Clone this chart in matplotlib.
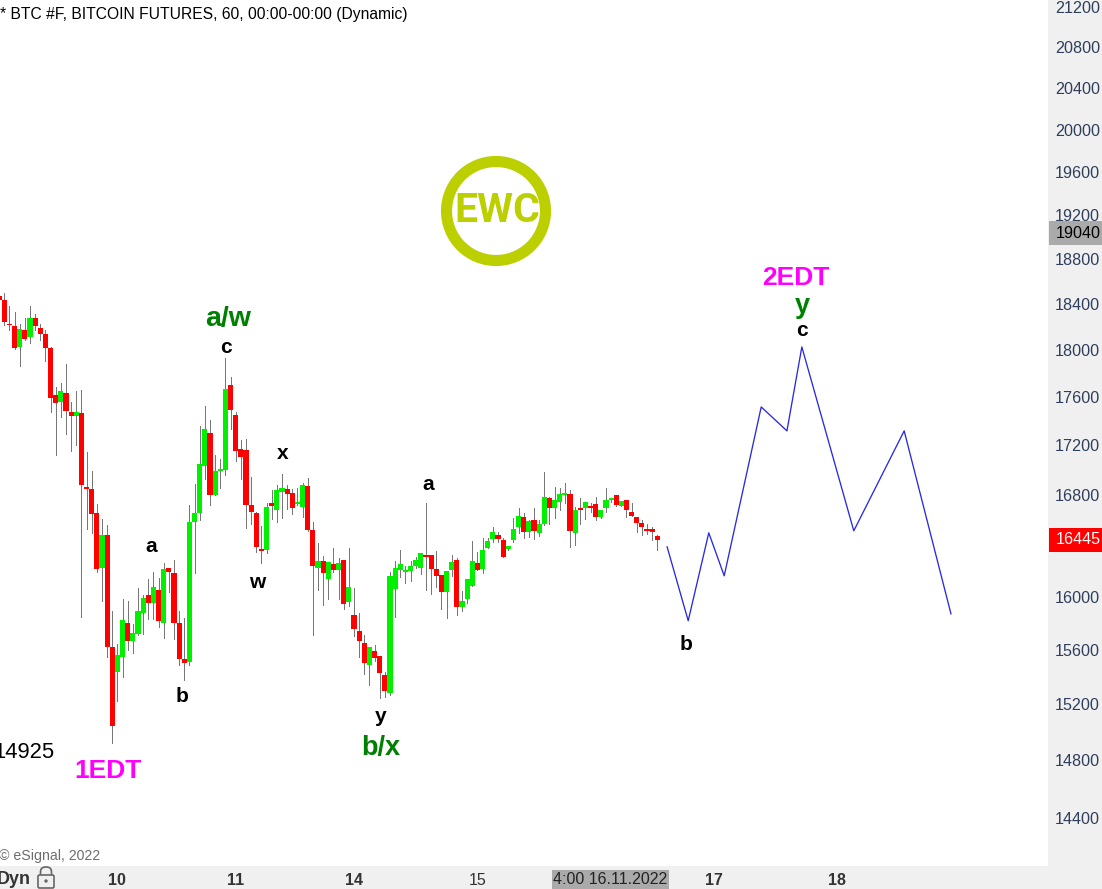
"""Bitcoin futures hourly candles with an Elliott wave projection (eSignal look)."""

import matplotlib
matplotlib.use("Agg")
import matplotlib.pyplot as plt
import numpy as np
from matplotlib.patches import Circle, FancyBboxPatch, Rectangle
from matplotlib.ticker import NullLocator

# ---------------------------------------------------------------------------
# Data
# ---------------------------------------------------------------------------

opens = [
    18472, 18437, 18228, 18211, 18031, 18176, 18115, 18280, 18193, 18141,
    18019, 17620, 17560, 17637, 17478, 17444, 17469, 16866, 16842, 16655,
    16224, 16482, 15623, 15438, 15549, 15804, 15668, 15721, 15879, 16016,
    15954, 16055, 15804, 16224, 16186, 15804, 15534, 15512, 16584, 16655,
    17033, 17299, 16798, 16993, 17001, 17705, 17453, 17171, 17163, 16719,
    16655, 16371, 16363, 16734, 16679, 16823, 16847, 16815, 16726, 16703,
    16874, 16521, 16224, 16278, 16139, 16255, 16209, 16286, 15962, 15864,
    15744, 15653, 15490, 15593, 15556, 15416, 15283, 16062, 16209, 16193,
    16201, 16240, 16224, 16324, 16324, 16217, 16170, 16039, 16209, 16286,
    15924, 15985, 16085, 16263, 16217, 16379, 16450, 16482, 16442, 16371,
    16442, 16545, 16624, 16505, 16600, 16498, 16569, 16774, 16695, 16742,
    16798, 16807, 16498, 16695, 16695, 16711, 16726, 16624, 16695, 16758,
    16798, 16711, 16758, 16663, 16624, 16576, 16529, 16529, 16474,
]
highs = [
    18496, 18496, 18385, 18333, 18228, 18280, 18385, 18315, 18228, 18176,
    18031, 17688, 17722, 17883, 17560, 17654, 17662, 17147, 16993, 16726,
    16608, 16561, 15894, 15645, 15985, 15970, 15796, 16070, 16016, 16139,
    16193, 16147, 16263, 16224, 16286, 15894, 15841, 16719, 16888, 17359,
    17527, 17411, 17123, 17090, 17934, 17773, 17478, 17246, 17254, 16944,
    16663, 16553, 16734, 16839, 16882, 16969, 16882, 16847, 16855, 16896,
    16936, 16584, 16418, 16317, 16270, 16379, 16301, 16286, 16379, 16070,
    15879, 15713, 15623, 15638, 15556, 15438, 16193, 16278, 16363, 16240,
    16278, 16309, 16340, 16734, 16324, 16355, 16170, 16201, 16324, 16301,
    16047, 16139, 16434, 16348, 16458, 16458, 16545, 16505, 16458, 16395,
    16616, 16695, 16655, 16600, 16695, 16600, 16985, 16782, 16863, 16855,
    16896, 16839, 16703, 16774, 16742, 16734, 16782, 16679, 16855, 16774,
    16798, 16750, 16758, 16734, 16624, 16600, 16569, 16545, 16482,
]
lows = [
    18437, 18220, 18176, 18008, 17869, 18089, 18066, 18176, 18089, 17909,
    17478, 17123, 17436, 17295, 17155, 17204, 15849, 16529, 16498, 16193,
    15970, 15549, 14925, 15225, 15402, 15600, 15578, 15713, 15721, 15834,
    15834, 15774, 15690, 16039, 15683, 15490, 15379, 15490, 16186, 16600,
    16928, 16719, 16798, 16855, 16961, 17337, 17074, 16928, 16534, 16569,
    16348, 16263, 16340, 16608, 16584, 16616, 16687, 16648, 16719, 16621,
    16513, 15713, 16055, 15939, 15985, 16193, 15985, 15909, 15932, 15706,
    15549, 15424, 15342, 15519, 15247, 15254, 15269, 15849, 16155, 16109,
    16124, 16224, 16178, 16055, 16024, 16078, 15909, 15841, 16163, 15864,
    15894, 15954, 16085, 16209, 16186, 16379, 16426, 16426, 16309, 16363,
    16426, 16498, 16458, 16466, 16450, 16474, 16561, 16569, 16616, 16679,
    16734, 16387, 16403, 16569, 16608, 16663, 16600, 16616, 16663, 16742,
    16711, 16711, 16624, 16632, 16505, 16482, 16490, 16442, 16363,
]
closes = [
    18437, 18240, 18214, 18019, 18182, 18098, 18280, 18211, 18144, 18019,
    17597, 17552, 17654, 17486, 17444, 17478, 16882, 16842, 16648, 16217,
    16482, 15623, 15046, 15563, 15826, 15668, 15728, 15894, 15992, 15954,
    16078, 15819, 16217, 16193, 15804, 15534, 15505, 16584, 16655, 17050,
    17334, 16798, 16993, 17009, 17671, 17494, 17155, 17106, 16719, 16663,
    16387, 16355, 16703, 16711, 16839, 16855, 16807, 16695, 16742, 16882,
    16521, 16240, 16278, 16186, 16270, 16209, 16263, 15947, 16078, 15759,
    15668, 15505, 15623, 15541, 15431, 15298, 16163, 16224, 16255, 16209,
    16240, 16286, 16340, 16309, 16217, 16163, 16039, 16201, 16270, 15924,
    15970, 16139, 16278, 16209, 16363, 16434, 16505, 16450, 16309, 16395,
    16529, 16632, 16505, 16592, 16513, 16569, 16782, 16695, 16758, 16807,
    16815, 16513, 16679, 16679, 16742, 16695, 16624, 16679, 16758, 16774,
    16719, 16750, 16679, 16632, 16576, 16545, 16513, 16505, 16442,
]

# hand drawn wave projection
proj_bars = [129.9, 134, 138, 141, 148.2, 153.2, 156.1, 166.2, 176, 185.1]
proj_prices = [16387, 15819, 16497, 16162, 17519, 17320, 18028, 16513, 17320, 15871]

price_ticks = [21200, 20800, 20400, 20000, 19600, 19200, 18800, 18400, 18000,
               17600, 17200, 16800, 16000, 15600, 15200, 14800, 14400]
day_bars = [23, 46, 69, 93, 139, 163]
day_labels = ["10", "11", "14", "15", "17", "18"]
day_weights = ["bold", "bold", "bold", "normal", "bold", "bold"]

# ---------------------------------------------------------------------------
# Figure
# ---------------------------------------------------------------------------

W, H = 1102, 889
plt.rcParams["font.family"] = ["Liberation Sans", "DejaVu Sans"]

fig = plt.figure(figsize=(W / 100, H / 100), dpi=100, facecolor="#f0f0f0")
ax = fig.add_axes([0, 1 - 866 / H, 1048 / W, 866 / H], facecolor="white")


def fx(x):
    return x / W


def fy(y):
    return 1 - y / H


def box(x0, y0, x1, y1, color):
    fig.add_artist(Rectangle((fx(x0), fy(y1)), (x1 - x0) / W, (y1 - y0) / H,
                             transform=fig.transFigure, facecolor=color,
                             edgecolor="none", zorder=5))


def label(x, y, s, size, color="black", weight="normal", ha="center", family=None):
    kw = {"family": family} if family else {}
    fig.text(fx(x), fy(y), s, fontsize=size, color=color, fontweight=weight,
             ha=ha, va="center", zorder=6, **kw)


# candles
bars = np.arange(len(opens))
o = np.array(opens)
c = np.array(closes)
colors = np.where(c >= o, "#00f000", "#ff0000")

ax.vlines(bars, lows, highs, color="#777777", linewidth=0.72, zorder=2, antialiased=False)
ax.bar(bars, np.abs(c - o), bottom=np.minimum(o, c), width=1.0, color=colors,
       linewidth=0, zorder=3, antialiased=False)

ax.plot(proj_bars, proj_prices, color="#2a2ae0", linewidth=0.95, zorder=4)

ax.set_yscale("log")
ax.set_xlim(0.164, 203.97)
ax.set_ylim(14071, 21276)
ax.yaxis.tick_right()
ax.set_yticks(price_ticks)
ax.set_yticklabels([str(t) for t in price_ticks])
ax.yaxis.set_minor_locator(NullLocator())
ax.tick_params(axis="y", length=0, pad=5, labelsize=11.6, labelcolor="#2f3e5c")
ax.set_xticks(day_bars)
ax.set_xticklabels(day_labels)
ax.tick_params(axis="x", length=0, pad=5, labelsize=11.5, labelcolor="#333333")
for tick, weight in zip(ax.get_xticklabels(), day_weights):
    tick.set_fontweight(weight)
for spine in ax.spines.values():
    spine.set_visible(False)

# price and cursor badges
box(1049, 221, 1102, 245, "#aaaaaa")
label(1078, 233, "19040", 11.6)
box(1049, 528, 1102, 552, "#ff0000")
label(1078, 540, "16445", 11.6, color="white")
box(552, 870, 669, 889, "#aaaaaa")
label(610.5, 879.5, "4:00 16.11.2022", 11.5, color="#222222")

# header and footer
label(0, 15, "* BTC #F, BITCOIN FUTURES, 60, 00:00-00:00 (Dynamic)", 11.25, ha="left")
label(-1, 856, "© eSignal, 2022", 10.2, color="#6e6e6e", ha="left")
label(-3, 879, "Dyn", 13, color="#333333", weight="bold", ha="left")
label(55, 752, "14925", 15.8, ha="right")

# wave labels
for x, y, s in [(151, 546, "a"), (182, 696, "b"), (226, 347, "c"), (257, 582, "w"),
                (283, 453, "x"), (381, 716, "y"), (428, 484, "a"), (686, 645, "b"),
                (802, 331, "c")]:
    label(x, y, s, 15, weight="bold")
label(228, 319, "a/w", 20.5, color="#008000", weight="bold")
label(380.5, 748, "b/x", 19.5, color="#008000", weight="bold")
label(802, 306, "y", 19.5, color="#008000", weight="bold")
label(108, 771, "1EDT", 19, color="#ff00ff", weight="bold")
label(795.5, 278, "2EDT", 19, color="#ff00ff", weight="bold")

# EWC logo
fig.add_artist(Circle((496, H - 211), 49.5, transform=None, fill=False,
                      edgecolor="#bccf00", linewidth=8, zorder=5))
label(497, 211, "EWC", 29.5, color="#bccf00", weight="bold", family="Roboto")

# padlock
fig.add_artist(FancyBboxPatch((40.5, H - 881), 11, 14, boxstyle="round,pad=0,rounding_size=5",
                              transform=None, fill=False, edgecolor="#666666",
                              linewidth=1.2, zorder=5))
fig.add_artist(FancyBboxPatch((38, H - 888), 16, 13, boxstyle="round,pad=0,rounding_size=1.5",
                              transform=None, facecolor="#f0f0f0", edgecolor="#666666",
                              linewidth=1.2, zorder=5))
fig.add_artist(Circle((46, H - 881), 1.7, transform=None, facecolor="#666666",
                      edgecolor="none", zorder=5))

fig.savefig("out.png", dpi=100, facecolor=fig.get_facecolor())
